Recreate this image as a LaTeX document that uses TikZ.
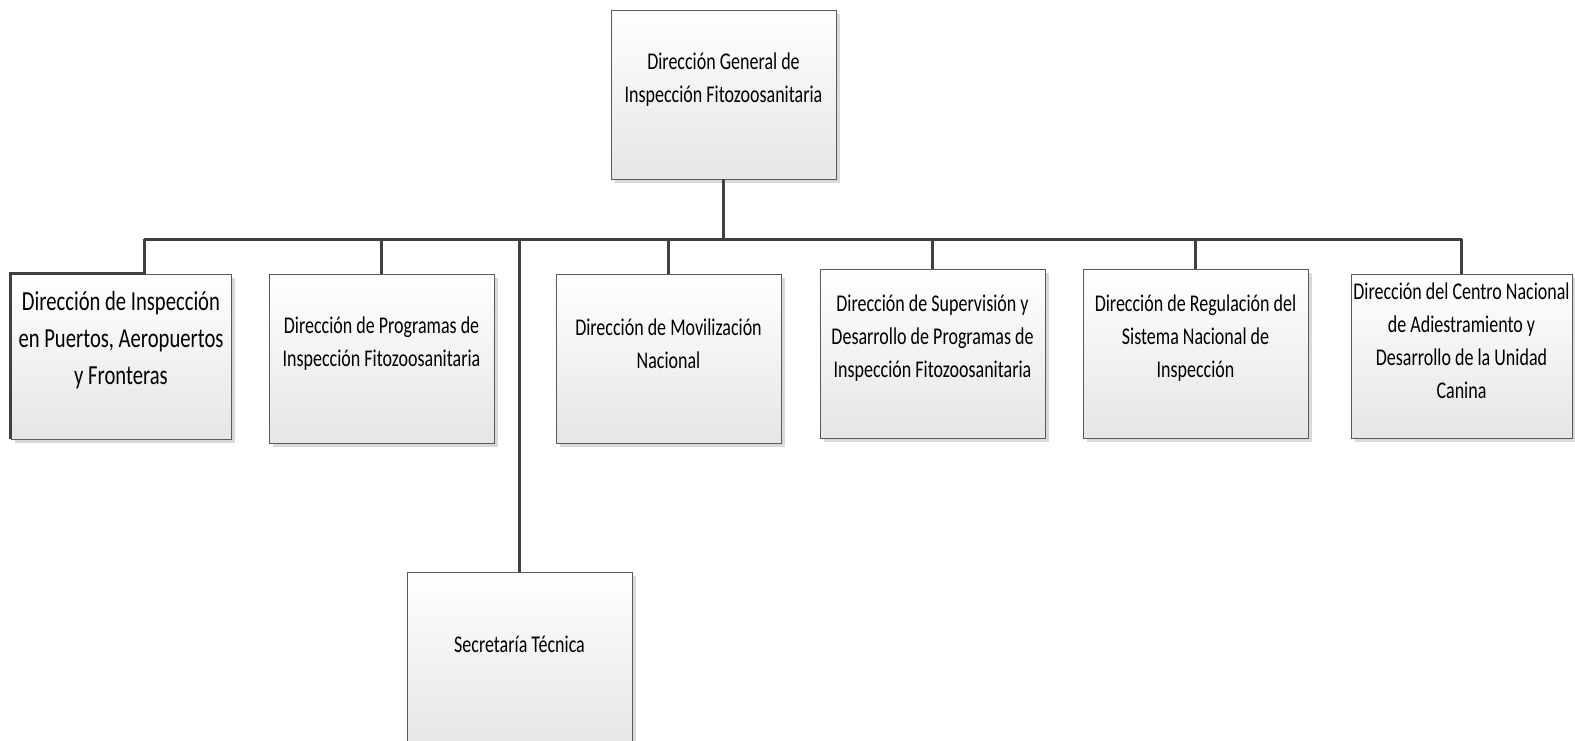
\documentclass[tikz,border=0pt]{standalone}
\usepackage{fontspec}
\setmainfont{Carlito}[FakeStretch=0.75]
\usetikzlibrary{shadows}

\begin{document}
\begin{tikzpicture}[x=1pt,y=-1pt,
    unit/.style={draw=black!65, line width=0.8pt, top color=white, bottom color=black!10,
      minimum width=225pt, minimum height=169pt, inner sep=0pt,
      drop shadow={shadow xshift=4pt, shadow yshift=-4pt, fill=black!15, opacity=1}},
    unittext/.style={align=center, font=\fontsize{24}{33}\selectfont},
    link/.style={draw=black!75, line width=3pt}]
        \useasboundingbox (0,0) rectangle (1575,740);
        % boxes
        \node[unit] (top) at (723.5,94.5) {};
        \node[unit, minimum width=220pt, minimum height=165pt] (puertos) at (121,356.5) {};
        \node[unit] (programas) at (381.5,358.5) {};
        \node[unit] (movil) at (668.5,358.5) {};
        \node[unit] (superv) at (932.5,353.5) {};
        \node[unit] (regul) at (1195.5,353.5) {};
        \node[unit, minimum width=221pt, minimum height=164pt] (canina) at (1461.5,356) {};
        \node[unit, minimum height=175pt] (secret) at (519.5,659.5) {};
        % texts
        \node[unittext] (top-t) at ([yshift=15pt]top.center) {Dirección General de\\Inspección Fitozoosanitaria};
        \node[unittext, font=\fontsize{27.5}{37}\selectfont] (puertos-t) at ([yshift=16pt]puertos.center) {Dirección de Inspección\\en Puertos, Aeropuertos\\y Fronteras};
        \node[unittext] (programas-t) at ([yshift=15pt]programas.center) {Dirección de Programas de\\Inspección Fitozoosanitaria};
        \node[unittext] (movil-t) at ([yshift=15pt]movil.center) {Dirección de Movilización\\Nacional};
        \node[unittext] (superv-t) at ([yshift=15pt]superv.center) {Dirección de Supervisión y\\Desarrollo de Programas de\\Inspección Fitozoosanitaria};
        \node[unittext] (regul-t) at ([yshift=15pt]regul.center) {Dirección de Regulación del\\Sistema Nacional de\\Inspección};
        \node[unittext] (canina-t) at ([yshift=15pt]canina.center) {Dirección del Centro Nacional\\de Adiestramiento y\\Desarrollo de la Unidad\\Canina};
        \node[unittext] (secret-t) at ([yshift=15pt]secret.center) {Secretaría Técnica};
        % connectors
        \coordinate (bus) at (723,239);
        \coordinate (j1) at (144,239);
        \draw[link] (top.south) -- (top.south |- bus);
        \draw[link] (j1) -- (canina |- bus);
        \draw[link] (j1) -- (j1 |- puertos.north) -- (puertos.north west) -- (puertos.south west);
        \draw[link] (programas |- bus) -- (programas.north);
        \draw[link] (movil |- bus) -- (movil.north);
        \draw[link] (superv |- bus) -- (superv.north);
        \draw[link] (regul |- bus) -- (regul.north);
        \draw[link] (canina |- bus) -- (canina.north);
        \draw[link] (secret |- bus) -- (secret.north);
    \end{tikzpicture}
\end{document}
